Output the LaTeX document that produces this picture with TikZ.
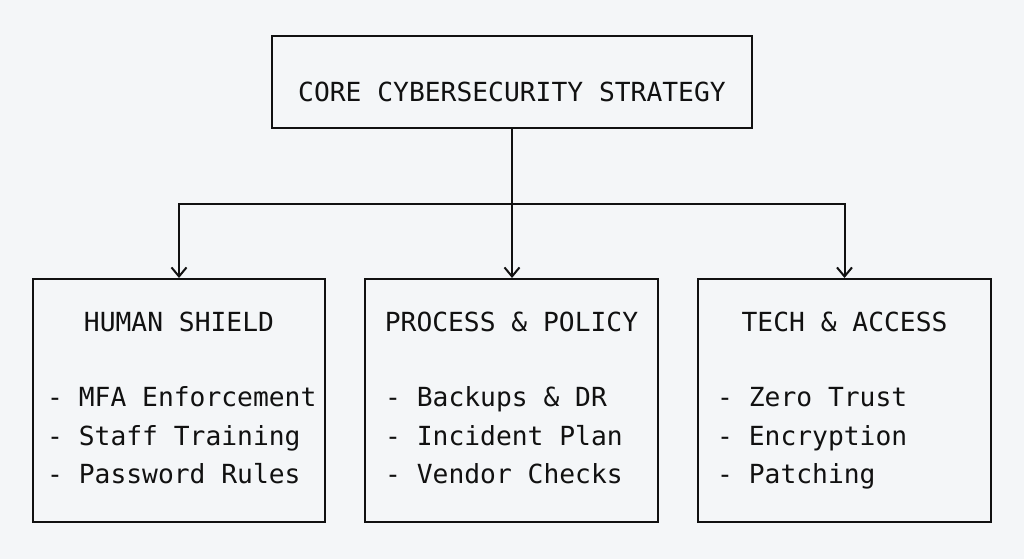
\documentclass[tikz,border=0pt]{standalone}
\usepackage{fontspec}
\setmonofont{DejaVu Sans Mono}
\usetikzlibrary{arrows.meta}
\definecolor{bg}{HTML}{F4F6F8}
\definecolor{ink}{HTML}{111111}
\begin{document}
\begin{tikzpicture}[x=1pt,y=-1pt,
  box/.style={draw=ink,line width=2pt,fill=bg,inner sep=0pt},
  txt/.style={font=\ttfamily\fontsize{26.3}{30}\selectfont,text=ink,inner sep=0pt,anchor=base},
  item/.style={txt,anchor=base west},
  arr/.style={draw=ink,line width=2pt,-{Straight Barb[length=9pt,width=15pt,line width=2pt]}}]
\fill[bg] (0,0) rectangle (1024,559);
\useasboundingbox (0,0) rectangle (1024,559);
\node[box,minimum width=480pt,minimum height=92pt] (top) at (512,82) {};
\node[txt] (toptxt) at (512,101.5) {CORE CYBERSECURITY STRATEGY};
\node[box,minimum width=292pt,minimum height=243pt] (b1) at (179,400.5) {};
\node[box,minimum width=293pt,minimum height=243pt] (b2) at (511.5,400.5) {};
\node[box,minimum width=293pt,minimum height=243pt] (b3) at (844.5,400.5) {};
\node[txt] (t1) at (179,331.5) {HUMAN SHIELD};
\node[txt] (t2) at (511.5,331.5) {PROCESS \& POLICY};
\node[txt] (t3) at (844.5,331.5) {TECH \& ACCESS};
\node[item] (i11) at (47,406.5) {- MFA Enforcement};
\node[item] (i12) at (47,445) {- Staff Training};
\node[item] (i13) at (47,483.5) {- Password Rules};
\node[item] (i21) at (385,406.5) {- Backups \& DR};
\node[item] (i22) at (385,445) {- Incident Plan};
\node[item] (i23) at (385,483.5) {- Vendor Checks};
\node[item] (i31) at (717,406.5) {- Zero Trust};
\node[item] (i32) at (717,445) {- Encryption};
\node[item] (i33) at (717,483.5) {- Patching};
\coordinate (j) at (512,204);
\draw[draw=ink,line width=2pt] (top.south) -- (j);
\draw[arr] (j) -- (b2.north -| j);
\draw[arr] (j) -| (b1.north);
\draw[arr] (j) -| (b3.north);
\end{tikzpicture}
\end{document}
